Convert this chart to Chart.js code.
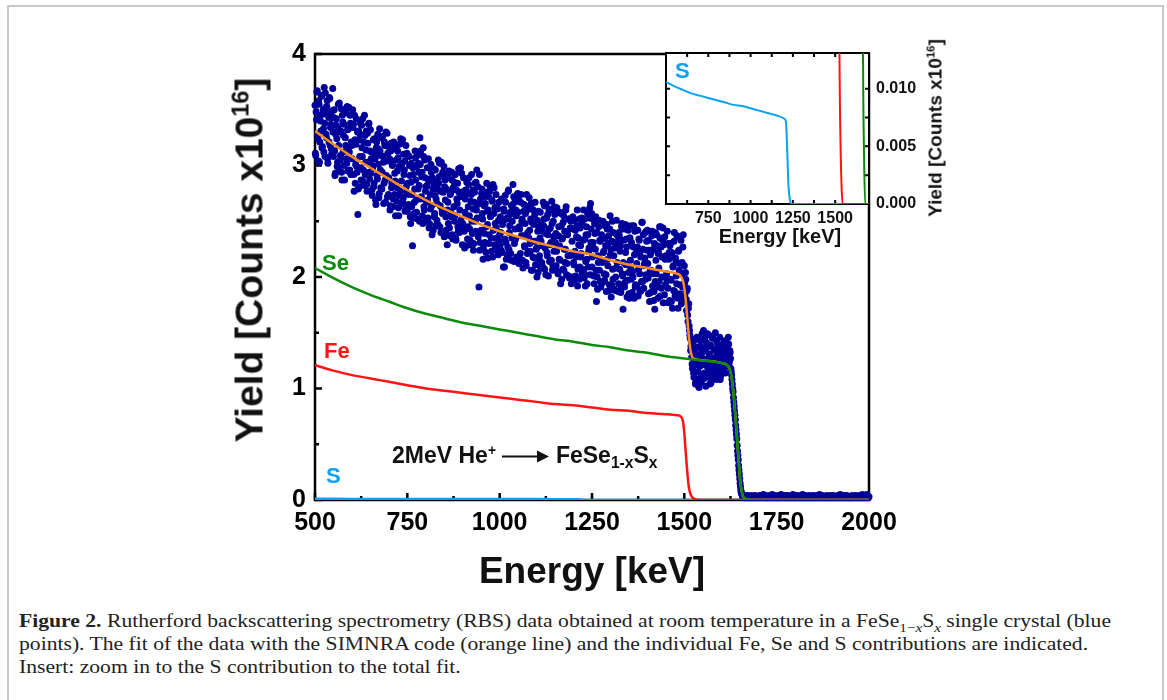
<!DOCTYPE html>
<html>
<head>
<meta charset="utf-8">
<script src="https://cdn.jsdelivr.net/npm/chart.js@4.4.0/dist/chart.umd.min.js"></script>
<style>
  body {
    margin: 0;
    width: 1167px;
    height: 700px;
    overflow: hidden;
    position: relative;
    background: #fff;
    font-family: "Liberation Sans", Arial, sans-serif;
  }
  .frame {
    position: absolute;
    left: 7px;
    top: 5px;
    width: 1157px;
    height: 740px;
    box-sizing: border-box;
    border: 2px solid #c8c8c8;
  }
  canvas { position: absolute; }
  .lbl {
    position: absolute;
    font-weight: bold;
    white-space: nowrap;
    line-height: 1;
    color: #111;
  }
  .lbl sup { font-size: 0.6em; vertical-align: baseline; position: relative; top: -0.6em; }
  .lbl sub { font-size: 0.68em; vertical-align: baseline; position: relative; top: 0.3em; }
  .arrow {
    display: inline-block;
    position: relative;
    width: 36px;
    height: 2.5px;
    background: #111;
    vertical-align: middle;
    margin: 0 18px 0 6px;
  }
  .arrow::after {
    content: "";
    position: absolute;
    right: -11px;
    top: -5px;
    border-left: 12px solid #111;
    border-top: 6px solid transparent;
    border-bottom: 6px solid transparent;
  }
  #caption {
    position: absolute;
    left: 19px;
    top: 610px;
    font-family: "Liberation Serif", "Times New Roman", serif;
    font-size: 18px;
    line-height: 23px;
    color: #222;
    white-space: nowrap;
    transform-origin: 0 0;
  }
  #caption sub { font-size: 0.7em; line-height: 0; }
</style>
</head>
<body>
<div class="frame"></div>
<canvas id="main" width="1167" height="600" style="left:0;top:0;width:1167px;height:600px"></canvas>
<canvas id="inset" width="400" height="260" style="left:600px;top:0;width:400px;height:260px"></canvas>

<div class="lbl" style="left:249px;top:260px;font-size:39px;transform:translate(-50%,-50%) rotate(-90deg)">Yield [Counts x10<sup>16</sup>]</div>
<div class="lbl" style="left:592px;top:570px;font-size:37px;transform:translate(-50%,-50%)">Energy [keV]</div>

<div class="lbl" style="left:322px;top:263px;font-size:22px;color:#0b8a0b;transform:translateY(-50%)">Se</div>
<div class="lbl" style="left:324px;top:351px;font-size:22px;color:#ff1414;transform:translateY(-50%)">Fe</div>
<div class="lbl" style="left:326px;top:476px;font-size:22px;color:#0aa2f0;transform:translateY(-50%)">S</div>
<div class="lbl" style="left:392px;top:455px;font-size:23px;transform:translateY(-50%)">2MeV He<sup>+</sup><span class="arrow"></span>FeSe<sub>1-x</sub>S<sub>x</sub></div>

<div class="lbl" style="left:675px;top:71px;font-size:22px;color:#0aa2f0;transform:translateY(-50%)">S</div>
<div class="lbl" style="left:780px;top:236px;font-size:20px;transform:translate(-50%,-50%)">Energy [keV]</div>
<div class="lbl" style="left:935px;top:128px;font-size:19px;transform:translate(-50%,-50%) rotate(-90deg)">Yield [Counts x10<sup>16</sup>]</div>

<div id="caption"><b>Figure 2.</b> Rutherford backscattering spectrometry (RBS) data obtained at room temperature in a FeSe<sub>1−<i>x</i></sub>S<sub><i>x</i></sub> single crystal (blue<br>points). The fit of the data with the SIMNRA code (orange line) and the individual Fe, Se and S contributions are indicated.<br>Insert: zoom in to the S contribution to the total fit.</div>

<script>
// RBS spectrum (x10^16 counts), 1 keV channels split in even and odd energies
const evenStart = 500; // keV
const oddStart = 501;  // keV
const channelStep = 2; // keV between entries of one list
const rbsYield = [
  3.54, 3.09, 3.41, 3.67, 3.24, 3.58, 3.03, 3.45, 3.31, 3.62, 3.17, 3.50, 3.12, 3.38, 3.65, 3.28, 3.53, 3.06, 3.47, 3.21, 3.60, 3.34, 3.15, 3.43, 3.69,
  3.08, 3.50, 2.91, 3.28, 3.42, 2.99, 3.34, 3.18, 3.56, 3.05, 3.31, 2.94, 3.45, 3.12, 3.37, 2.87, 3.25, 3.47, 3.02, 3.32, 3.16, 3.52, 2.96, 3.38, 3.21,
  3.18, 3.50, 3.37, 2.77, 3.23, 3.01, 3.42, 2.94, 2.56, 3.31, 2.81, 3.28, 2.98, 3.36, 3.08, 2.86, 3.21, 3.45, 2.92, 3.14, 2.83, 3.29, 3.03, 3.38, 2.88,
  3.32, 3.06, 2.78, 2.97, 3.23, 2.84, 3.10, 2.69, 3.16, 2.91, 3.28, 3.01, 2.75, 3.13, 2.80, 3.25, 2.94, 3.08, 2.66, 3.21, 2.87, 3.30, 3.04, 2.72, 3.17,
  2.89, 3.06, 2.64, 3.20, 2.84, 3.00, 2.70, 3.15, 2.93, 2.55, 3.05, 2.80, 3.13, 2.62, 2.99, 2.73, 3.24, 2.86, 3.02, 2.67, 3.10, 2.96, 2.59, 3.18, 2.76,
  2.59, 3.09, 2.74, 3.00, 2.54, 2.85, 2.63, 2.28, 2.92, 2.57, 2.79, 3.07, 2.69, 2.99, 2.52, 3.02, 2.82, 3.25, 3.13, 2.72, 2.94, 2.48, 3.08, 2.60, 2.89,
  2.81, 2.67, 2.98, 2.53, 2.86, 2.48, 2.74, 3.01, 2.64, 2.89, 2.42, 2.83, 2.57, 2.96, 2.70, 2.51, 2.79, 3.05, 2.90, 2.45, 2.77, 3.03, 2.60, 2.94, 2.39,
  2.36, 2.87, 2.54, 2.79, 2.29, 2.67, 2.89, 2.44, 2.74, 2.58, 2.94, 2.38, 2.80, 2.63, 2.50, 2.92, 2.33, 2.70, 2.84, 2.41, 2.76, 2.60, 2.98, 2.47, 2.73,
  2.48, 2.89, 2.41, 2.58, 2.78, 2.28, 2.75, 2.45, 2.83, 2.55, 2.33, 2.68, 2.92, 2.39, 2.61, 2.30, 2.76, 2.50, 2.85, 2.96, 2.65, 2.36, 1.91, 2.24, 2.70,
  2.42, 2.79, 2.52, 2.26, 2.64, 2.31, 2.76, 2.45, 2.59, 2.17, 2.72, 2.38, 2.81, 2.55, 2.23, 2.68, 2.83, 2.57, 2.29, 2.48, 2.74, 2.35, 2.61, 2.20, 2.67,
  2.38, 2.54, 2.24, 2.69, 2.47, 2.09, 2.59, 2.34, 2.67, 2.16, 2.53, 2.27, 2.78, 2.40, 2.56, 2.21, 2.64, 2.50, 2.83, 2.72, 2.30, 2.43, 2.60, 2.18, 2.74,
  2.58, 2.12, 2.43, 2.21, 2.74, 2.50, 2.15, 2.37, 2.65, 2.27, 2.57, 2.10, 2.60, 2.40, 2.23, 2.71, 2.30, 2.52, 2.06, 2.66, 2.18, 2.47, 2.17, 2.67, 2.32,
  2.26, 2.51, 2.04, 2.45, 2.19, 2.58, 2.32, 2.13, 2.41, 2.67, 2.52, 2.07, 2.39, 2.65, 2.22, 2.56, 2.01, 2.43, 2.29, 2.60, 2.15, 2.48, 2.10, 2.36, 2.63,
  2.09, 2.39, 2.23, 2.59, 2.03, 2.45, 2.28, 2.15, 2.57, 1.98, 2.35, 2.49, 2.06, 2.41, 2.25, 2.63, 2.12, 2.38, 2.01, 2.52, 2.19, 2.44, 1.94, 2.32, 2.54,
  2.13, 2.51, 2.23, 2.01, 2.36, 2.60, 2.07, 2.29, 1.98, 2.44, 2.18, 2.53, 2.03, 2.33, 2.04, 2.52, 1.92, 2.38, 2.16, 2.57, 2.09, 2.26, 2.62, 2.66, 2.43,
  2.09, 2.52, 2.26, 1.94, 2.39, 2.54, 1.78, 2.00, 2.19, 2.45, 2.06, 2.32, 1.91, 2.38, 2.13, 2.50, 2.23, 1.97, 2.35, 2.02, 2.47, 2.16, 2.30, 1.88, 2.43,
  2.20, 1.82, 2.32, 2.07, 2.40, 1.89, 2.26, 2.00, 2.51, 2.13, 2.29, 1.94, 2.37, 2.23, 1.86, 2.45, 2.03, 1.71, 2.33, 1.91, 2.47, 2.11, 2.27, 1.97, 2.42,
  1.85, 2.35, 2.15, 1.98, 2.46, 2.05, 2.27, 1.81, 2.41, 1.93, 2.22, 1.92, 2.42, 2.07, 2.33, 1.87, 2.18, 1.96, 2.49, 2.25, 1.90, 2.12, 2.40, 2.02, 2.32,
  2.42, 1.99, 2.33, 1.78, 2.20, 2.06, 2.37, 1.92, 2.25, 1.87, 1.71, 2.40, 2.03, 2.28, 1.81, 2.22, 1.96, 2.35, 2.45, 1.90, 2.18, 2.44, 2.29, 1.84, 2.16,
  2.19, 2.03, 2.41, 1.90, 2.16, 1.79, 2.30, 1.97, 2.22, 1.72, 2.10, 2.32, 1.87, 2.17, 2.01, 2.37, 1.81, 2.23, 2.06, 1.93, 2.35, 1.76, 2.13, 2.27, 1.84,
  2.10, 1.85, 1.98, 1.70, 1.90, 1.60, 1.76, 1.52, 1.45, 1.38, 1.28, 1.18, 1.40, 1.10, 1.32, 1.04, 1.25, 1.46, 1.08, 1.30, 1.01, 1.20, 1.38, 1.06, 1.49,
  1.33, 1.52, 1.14, 1.26, 1.02, 1.41, 1.20, 1.48, 1.10, 1.30, 1.38, 1.05, 1.24, 1.45, 1.13, 1.35, 1.19, 1.50, 1.08, 1.29, 1.40, 1.16, 1.25, 1.46, 1.11,
  1.30, 1.22, 1.39, 1.16, 1.33, 1.26, 1.43, 1.20, 1.35, 1.28, 1.40, 1.24, 1.32, 1.18, 1.12, 1.04, 0.97, 0.88, 0.80, 0.72, 0.63, 0.55, 0.44, 0.36, 0.27,
  0.19, 0.12, 0.07, 0.05, 0.03, 0.03, 0.02, 0.04, 0.03, 0.02, 0.03, 0.04, 0.02, 0.03, 0.02, 0.03, 0.04, 0.02, 0.03, 0.03, 0.02, 0.04, 0.03, 0.02, 0.03,
  0.03, 0.02, 0.04, 0.03, 0.02, 0.03, 0.03, 0.05, 0.02, 0.03, 0.04, 0.02, 0.03, 0.02, 0.03, 0.04, 0.03, 0.02, 0.03, 0.05, 0.03, 0.02, 0.03, 0.04, 0.02,
  0.03, 0.02, 0.03, 0.04, 0.02, 0.03, 0.05, 0.03, 0.02, 0.03, 0.03, 0.04, 0.02, 0.03, 0.02, 0.04, 0.03, 0.02, 0.03, 0.02, 0.04, 0.03, 0.05, 0.02, 0.03,
  0.02, 0.03, 0.04, 0.02, 0.03, 0.03, 0.02, 0.04, 0.03, 0.02, 0.05, 0.03, 0.02, 0.03, 0.04, 0.02, 0.03, 0.02, 0.03, 0.04, 0.02, 0.03, 0.03, 0.02, 0.04,
  0.03, 0.02, 0.03, 0.02, 0.04, 0.03, 0.02, 0.03, 0.05, 0.02, 0.03, 0.02, 0.04, 0.03, 0.02, 0.03, 0.02, 0.03, 0.04, 0.02, 0.03, 0.02, 0.03, 0.04, 0.02,
  0.03, 0.02, 0.04, 0.03, 0.02, 0.03, 0.02, 0.03, 0.04, 0.02, 0.03, 0.05, 0.02, 0.03, 0.02, 0.03, 0.04, 0.02, 0.03, 0.02, 0.04, 0.03, 0.02, 0.03, 0.02,
  0.03, 0.02, 0.04, 0.02, 0.03, 0.03, 0.02, 0.04, 0.03, 0.02, 0.03, 0.02, 0.04, 0.03, 0.02, 0.03, 0.05, 0.02, 0.03, 0.04, 0.02, 0.03, 0.05, 0.03, 0.02,
  0.03
];
const rbsYieldOdd = [
  3.11, 3.48, 3.66, 3.28, 3.04, 3.55, 3.21, 3.40, 3.63, 3.16, 3.46, 3.33, 3.70, 3.08, 3.52, 3.25, 3.58, 3.02, 3.43, 3.61, 3.18, 3.37, 3.10, 3.49, 3.30,
  3.43, 3.13, 2.93, 3.36, 3.24, 3.03, 3.55, 2.98, 3.30, 3.09, 3.51, 2.87, 3.39, 3.27, 3.00, 3.48, 3.18, 3.06, 3.53, 2.95, 3.33, 3.12, 3.45, 2.92, 3.37,
  3.06, 3.34, 2.92, 3.45, 2.84, 3.19, 2.99, 3.30, 2.79, 3.23, 3.08, 3.38, 2.87, 3.16, 3.42, 2.96, 2.82, 3.27, 3.03, 3.31, 2.77, 3.20, 3.37, 2.94, 3.13,
  2.93, 3.12, 2.73, 3.00, 2.81, 3.24, 3.06, 2.65, 3.21, 2.88, 3.15, 2.71, 3.33, 2.96, 3.09, 2.79, 3.26, 3.03, 2.84, 3.18, 2.67, 2.91, 3.29, 3.11, 2.74,
  3.05, 2.60, 3.13, 2.80, 3.01, 2.63, 3.21, 2.74, 2.86, 3.16, 2.68, 2.95, 3.07, 2.55, 3.19, 2.77, 2.98, 2.66, 3.23, 2.71, 2.92, 3.04, 2.61, 2.81, 3.11,
  2.84, 2.65, 3.08, 2.91, 2.48, 3.02, 2.74, 2.98, 2.53, 2.67, 3.13, 2.87, 2.58, 3.09, 2.79, 2.94, 2.50, 3.01, 2.70, 2.90, 2.55, 3.16, 2.63, 3.05, 2.77,
  2.52, 2.82, 2.69, 3.06, 2.44, 2.88, 2.61, 2.94, 2.38, 2.79, 2.97, 2.54, 2.73, 2.46, 2.85, 2.66, 2.47, 2.84, 3.02, 2.64, 2.40, 2.91, 2.57, 2.76, 2.99,
  2.81, 2.69, 2.42, 2.90, 2.60, 2.48, 2.95, 2.37, 2.75, 2.54, 2.87, 2.34, 2.79, 2.85, 2.55, 2.35, 2.78, 2.66, 2.45, 2.97, 2.40, 2.72, 2.51, 2.93, 2.29,
  2.46, 2.77, 2.26, 2.70, 2.55, 2.85, 2.34, 2.63, 2.89, 2.43, 2.29, 2.74, 2.50, 2.78, 2.24, 2.67, 2.84, 2.41, 2.60, 2.53, 2.81, 2.39, 2.92, 2.31, 2.66,
  2.75, 2.57, 2.16, 2.72, 2.39, 2.66, 2.22, 2.84, 2.47, 2.60, 2.30, 2.77, 2.54, 2.35, 2.69, 2.18, 2.42, 2.80, 2.62, 2.25, 2.44, 2.63, 2.24, 2.51, 2.32,
  2.28, 2.40, 2.70, 2.22, 2.49, 2.61, 2.09, 2.73, 2.31, 2.52, 2.20, 2.77, 2.25, 2.46, 2.58, 2.15, 2.35, 2.65, 2.59, 2.14, 2.67, 2.34, 2.55, 2.17, 2.75,
  2.71, 2.45, 2.16, 2.67, 2.37, 2.52, 2.08, 2.59, 2.28, 2.48, 2.13, 2.74, 2.21, 2.63, 2.35, 2.42, 2.23, 2.66, 2.49, 2.06, 2.60, 2.32, 2.56, 2.11, 2.25,
  2.00, 2.41, 2.59, 2.16, 2.35, 2.08, 2.47, 2.28, 2.09, 2.46, 2.64, 2.26, 2.02, 2.53, 2.19, 2.38, 2.61, 2.14, 2.44, 2.31, 2.68, 2.06, 2.50, 2.23, 2.56,
  2.31, 2.10, 2.62, 2.05, 2.37, 2.16, 2.58, 1.94, 2.46, 2.34, 2.07, 2.55, 2.25, 2.13, 2.60, 2.02, 2.40, 2.19, 2.52, 1.99, 2.44, 2.50, 2.20, 2.00, 2.43,
  2.11, 1.97, 2.42, 2.18, 2.46, 1.92, 2.35, 2.52, 2.09, 2.28, 2.21, 2.49, 2.07, 2.60, 1.99, 2.34, 2.14, 2.45, 1.94, 2.38, 2.23, 2.53, 2.02, 2.31, 2.57,
  2.18, 2.31, 2.01, 2.48, 2.25, 2.06, 2.40, 1.89, 2.13, 2.51, 2.33, 1.96, 2.15, 2.34, 1.95, 2.22, 2.03, 2.46, 2.28, 1.87, 2.43, 2.10, 2.37, 1.93, 2.55,
  2.25, 1.93, 2.50, 1.98, 2.19, 2.31, 1.88, 2.08, 2.38, 2.32, 1.87, 2.40, 2.07, 2.28, 1.90, 2.48, 2.01, 2.13, 2.43, 1.95, 2.22, 2.34, 1.82, 2.46, 2.04,
  1.81, 2.35, 2.07, 2.31, 1.86, 2.00, 2.46, 2.20, 1.91, 2.42, 2.12, 2.27, 1.83, 2.34, 2.03, 2.23, 1.88, 2.49, 1.96, 2.38, 2.10, 2.17, 1.98, 2.41, 2.24,
  2.12, 1.85, 2.24, 2.05, 1.86, 2.23, 2.41, 2.03, 1.79, 2.30, 1.96, 2.15, 2.38, 1.91, 2.21, 2.08, 2.45, 1.83, 2.27, 2.00, 2.33, 1.77, 2.18, 2.36, 1.93,
  2.18, 1.97, 2.30, 1.77, 2.22, 2.28, 1.98, 1.78, 2.21, 2.09, 1.88, 2.40, 1.83, 2.15, 1.94, 2.36, 1.72, 2.24, 2.12, 1.85, 2.33, 2.03, 1.91, 2.38, 1.80,
  1.95, 2.04, 1.80, 1.88, 1.66, 1.72, 1.56, 1.48, 1.34, 1.42, 1.22, 1.33, 1.14, 1.27, 1.44, 1.06, 1.21, 1.37, 1.15, 1.02, 1.28, 1.43, 1.12, 1.34, 1.23,
  1.27, 1.09, 1.44, 1.21, 1.36, 1.13, 1.49, 1.18, 1.31, 1.04, 1.39, 1.26, 1.16, 1.47, 1.22, 1.10, 1.34, 1.28, 1.43, 1.14, 1.32, 1.20, 1.37, 1.08, 1.30,
  1.25, 1.36, 1.19, 1.42, 1.29, 1.14, 1.37, 1.23, 1.31, 1.46, 1.21, 1.34, 1.27, 1.15, 1.08, 1.00, 0.92, 0.84, 0.76, 0.67, 0.59, 0.49, 0.40, 0.31, 0.23,
  0.15, 0.09, 0.06, 0.04, 0.03
];

// SIMNRA fit curves as [energy keV, yield]
const totalFit = [
  [500, 3.31], [550, 3.19], [600, 3.08], [650, 2.98], [700, 2.88], [750, 2.78], [800, 2.69], [850, 2.61],
  [900, 2.54], [950, 2.47], [1000, 2.41], [1050, 2.36], [1100, 2.31], [1150, 2.27], [1200, 2.23], [1250, 2.20],
  [1300, 2.15], [1350, 2.11], [1400, 2.08], [1450, 2.05], [1480, 2.03], [1492, 2.00], [1498, 1.94], [1503, 1.82],
  [1508, 1.63], [1513, 1.44], [1518, 1.32], [1524, 1.27], [1560, 1.25], [1600, 1.23], [1616, 1.21], [1622, 1.18],
  [1628, 1.10], [1634, 0.92], [1640, 0.68], [1646, 0.40], [1652, 0.15], [1658, 0.04], [1665, 0.012], [1671, 0.004],
  [1680, 0], [2000, 0]
];
const seFit = [
  [500, 2.08], [550, 1.99], [600, 1.91], [650, 1.84], [700, 1.78], [750, 1.72], [800, 1.67], [850, 1.63],
  [900, 1.59], [950, 1.56], [1000, 1.53], [1050, 1.50], [1100, 1.47], [1150, 1.44], [1200, 1.42], [1250, 1.39],
  [1300, 1.37], [1350, 1.34], [1400, 1.32], [1450, 1.29], [1500, 1.27], [1550, 1.25], [1600, 1.23], [1616, 1.21],
  [1622, 1.18], [1628, 1.10], [1634, 0.92], [1640, 0.68], [1646, 0.40], [1652, 0.15], [1658, 0.04], [1665, 0.012],
  [1671, 0.004], [1677, 0], [2000, 0]
];
const feFit = [
  [500, 1.21], [550, 1.16], [600, 1.12], [650, 1.09], [700, 1.06], [750, 1.03], [800, 1.00], [850, 0.98],
  [900, 0.96], [950, 0.94], [1000, 0.92], [1050, 0.90], [1100, 0.88], [1150, 0.86], [1200, 0.85], [1250, 0.83],
  [1300, 0.81], [1350, 0.80], [1400, 0.78], [1450, 0.77], [1480, 0.76], [1490, 0.75], [1496, 0.71], [1500, 0.60],
  [1504, 0.42], [1508, 0.25], [1512, 0.12], [1516, 0.06], [1520, 0.03], [1526, 0.012], [1532, 0.005], [1538, 0.0015],
  [1544, 0], [2000, 0]
];
const sFit = [
  [500, 0.0106], [550, 0.0102], [600, 0.0099], [650, 0.0096], [700, 0.0094], [750, 0.0092], [800, 0.0090],
  [850, 0.0088], [900, 0.0086], [950, 0.0085], [1000, 0.0083], [1050, 0.0081], [1100, 0.0079], [1150, 0.0077],
  [1200, 0.0074], [1208, 0.0072], [1213, 0.0062], [1218, 0.0040], [1224, 0.0016], [1232, 0.0004], [1242, 0], [2000, 0]
];

// Tick labels that are printed (other ticks are unlabeled minor ticks)
const mainXLabels = [500, 750, 1000, 1250, 1500, 1750, 2000];
const mainYLabels = [0, 1, 2, 3, 4];
const insetXLabels = [750, 1000, 1250, 1500];
const insetYLabels = [0, 0.005, 0.01];

const colors = {
  data: "#00009a",
  total: "#ff8c1a",
  se: "#0c8a0c",
  fe: "#ff1414",
  s: "#0aa2f0",
};
const boldFont = (size) => ({ family: "'Liberation Sans', Arial, sans-serif", size: size, weight: "bold" });
const toXY = (pairs) => pairs.map(([x, y]) => ({ x: x, y: y }));
const hasLabel = (list, v) => list.some((l) => Math.abs(l - v) < 1e-9);

// Box around the plot with inward tick marks
const frameTicks = {
  id: "frameTicks",
  beforeDatasetsDraw(chart, args, opts) {
    const { ctx, chartArea: a, scales } = chart;
    const x = scales.x;
    const y = scales.y;
    ctx.save();
    if (opts.fill) {
      ctx.fillStyle = opts.fill;
      ctx.fillRect(a.left, a.top, a.right - a.left, a.bottom - a.top);
    }
    ctx.strokeStyle = "#000";
    ctx.lineWidth = opts.lineWidth;
    ctx.strokeRect(a.left, a.top, a.right - a.left, a.bottom - a.top);
    ctx.beginPath();
    x.ticks.forEach((t) => {
      const px = x.getPixelForValue(t.value);
      const len = hasLabel(opts.xMajor, t.value) ? opts.major : opts.minor;
      ctx.moveTo(px, a.bottom);
      ctx.lineTo(px, a.bottom - len);
      if (opts.allSides) {
        ctx.moveTo(px, a.top);
        ctx.lineTo(px, a.top + len);
      }
    });
    y.ticks.forEach((t) => {
      const py = y.getPixelForValue(t.value);
      const len = hasLabel(opts.yMajor, t.value) ? opts.major : opts.minor;
      ctx.moveTo(a.left, py);
      ctx.lineTo(a.left + len, py);
      if (opts.allSides) {
        ctx.moveTo(a.right, py);
        ctx.lineTo(a.right - len, py);
      }
    });
    ctx.stroke();
    ctx.restore();
  },
};

const lineSet = (label, pairs, color, width, order) => ({
  label: label,
  data: toXY(pairs),
  showLine: true,
  borderColor: color,
  borderWidth: width,
  pointRadius: 0,
  cubicInterpolationMode: "monotone",
  order: order,
});

const createMain = () => {
  const points = rbsYield.map((v, i) => ({ x: evenStart + i * channelStep, y: v }));
  rbsYieldOdd.forEach((v, i) => points.push({ x: oddStart + i * channelStep, y: v }));
  const ctx = document.getElementById("main").getContext("2d");
  return new Chart(ctx, {
    type: "scatter",
    data: {
      datasets: [
        lineSet("Se", seFit, colors.se, 2.5, 0),
        lineSet("Fe", feFit, colors.fe, 2.5, 1),
        lineSet("S", sFit, colors.s, 2.5, 2),
        lineSet("SIMNRA fit", totalFit, colors.total, 2.5, 3),
        {
          label: "RBS data",
          data: points,
          backgroundColor: colors.data,
          borderWidth: 0,
          pointRadius: 3.5,
          clip: false,
          order: 4,
        },
      ],
    },
    options: {
      responsive: false,
      animation: false,
      devicePixelRatio: 1,
      layout: { padding: { left: 275, top: 54, right: 298, bottom: 60 } },
      plugins: {
        legend: { display: false },
        tooltip: { enabled: false },
        frameTicks: { lineWidth: 2.5, major: 7, minor: 4, xMajor: mainXLabels, yMajor: mainYLabels, allSides: false },
      },
      scales: {
        x: {
          type: "linear",
          min: 500,
          max: 2000,
          grid: { display: false, drawTicks: false },
          border: { display: false },
          ticks: {
            stepSize: 125,
            autoSkip: false,
            maxRotation: 0,
            padding: 8,
            color: "#000",
            font: boldFont(25),
            callback: (v) => (hasLabel(mainXLabels, v) ? String(v) : ""),
          },
          afterFit: (s) => { s.height = 40; },
        },
        y: {
          min: 0,
          max: 4,
          grid: { display: false, drawTicks: false },
          border: { display: false },
          ticks: {
            stepSize: 0.5,
            autoSkip: false,
            padding: 9,
            color: "#000",
            font: boldFont(25),
            callback: (v) => (hasLabel(mainYLabels, v) ? String(v) : ""),
          },
          afterFit: (s) => { s.width = 40; },
        },
      },
    },
    plugins: [frameTicks],
  });
};

const createInset = () => {
  const ctx = document.getElementById("inset").getContext("2d");
  return new Chart(ctx, {
    type: "scatter",
    data: {
      datasets: [
        lineSet("Se", seFit, colors.se, 2, 0),
        lineSet("Fe", feFit, colors.fe, 2, 1),
        lineSet("S", sFit, colors.s, 2, 2),
      ],
    },
    options: {
      responsive: false,
      animation: false,
      devicePixelRatio: 1,
      layout: { padding: { left: 66, top: 53, right: 71, bottom: 34 } },
      plugins: {
        legend: { display: false },
        tooltip: { enabled: false },
        frameTicks: { lineWidth: 2, major: 4, minor: 4, xMajor: insetXLabels, yMajor: insetYLabels, allSides: true, fill: "#fff" },
      },
      scales: {
        x: {
          type: "linear",
          min: 500,
          max: 1700,
          grid: { display: false, drawTicks: false },
          border: { display: false },
          ticks: {
            stepSize: 125,
            autoSkip: false,
            maxRotation: 0,
            padding: 5,
            color: "#111",
            font: boldFont(16),
            callback: (v) => (hasLabel(insetXLabels, v) ? String(v) : ""),
          },
          afterFit: (s) => { s.height = 22; },
        },
        y: {
          position: "right",
          min: 0,
          max: 0.0131,
          grid: { display: false, drawTicks: false },
          border: { display: false },
          ticks: {
            stepSize: 0.0025,
            autoSkip: false,
            padding: 7,
            color: "#111",
            font: boldFont(16),
            callback: (v) => (hasLabel(insetYLabels, v) ? v.toFixed(3) : ""),
          },
          afterFit: (s) => { s.width = 60; },
        },
      },
    },
    plugins: [frameTicks],
  });
};

// Squeeze the caption to the width of the printed text block
const fitCaption = () => {
  const cap = document.getElementById("caption");
  const w = cap.getBoundingClientRect().width;
  cap.style.transform = "scaleX(" + (1092 / w) + ")";
};

createMain();
createInset();
fitCaption();
</script>
</body>
</html>
